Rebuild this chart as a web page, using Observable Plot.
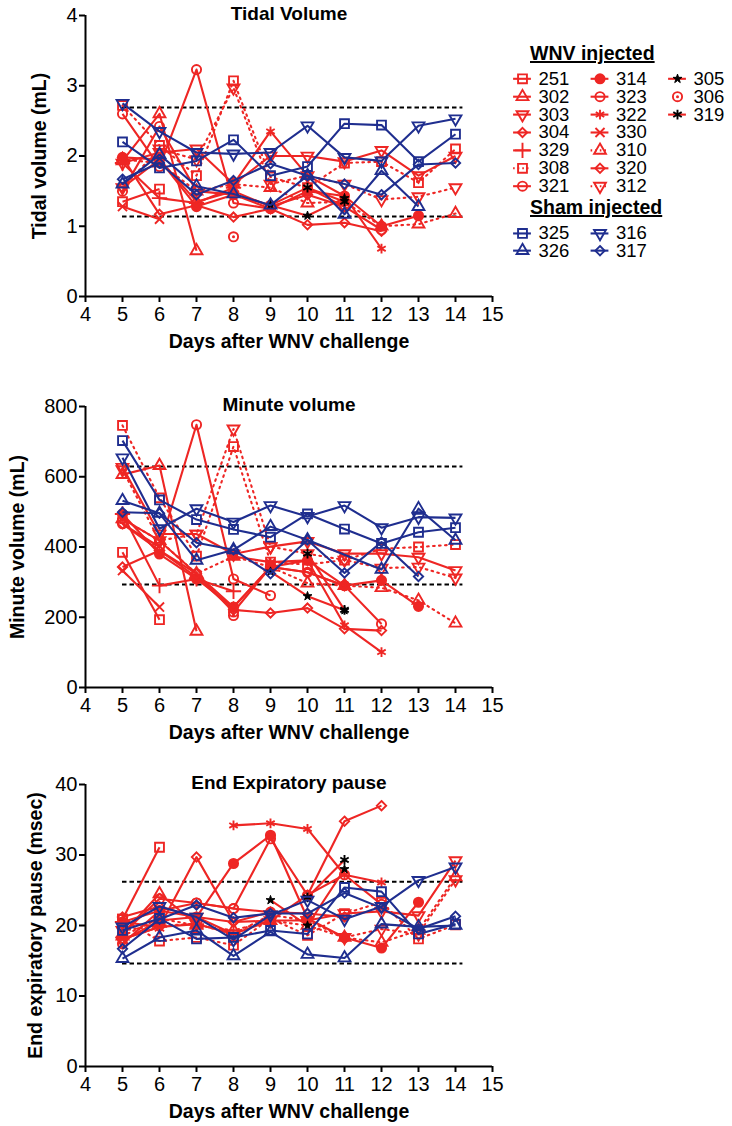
<!DOCTYPE html>
<html>
<head>
<meta charset="utf-8">
<script src="https://cdn.jsdelivr.net/npm/d3@7"></script>
<script src="https://cdn.jsdelivr.net/npm/@observablehq/plot@0.6"></script>
<style>
  body { margin: 0; background: #fff; font-family: "Liberation Sans", Arial, Helvetica, sans-serif; }
  #wrap { position: relative; width: 732px; height: 1126px; overflow: hidden; }
  #wrap svg { display: block; }
  .hdr { position: absolute; font-weight: bold; font-size: 19.5px; line-height: 22px; text-decoration: underline; text-decoration-thickness: 2px; color: #000; white-space: nowrap; }
  #legend { position: absolute; left: 480px; top: 0px; }
</style>
</head>
<body>
<div id="wrap"></div>
<script>
// ---------- data ----------
const days = [5, 6, 7, 8, 9, 10, 11, 12, 13, 14];
const xTicks = [4, 5, 6, 7, 8, 9, 10, 11, 12, 13, 14, 15];
const xLabel = "Days after WNV challenge";

const seriesIds     = ["251","302","303","304","329","308","321","314","323","322","330","310","320","312","305","306","319","325","326","316","317"];
const seriesGroup   = ["WNV","WNV","WNV","WNV","WNV","WNV","WNV","WNV","WNV","WNV","WNV","WNV","WNV","WNV","WNV","WNV","WNV","Sham","Sham","Sham","Sham"];
const seriesSymbol  = ["square","triangle","triangleDown","diamond","plus","square","circle","circle","circle","asterisk","times","triangle","diamond","triangleDown","star","circle","asterisk","square","triangle","triangleDown","diamond"];
const seriesFill    = [false,false,false,false,false,false,false,true,false,false,false,false,false,false,true,false,false,false,false,false,false];
const seriesCenterDot = [false,false,false,false,false,false,false,false,false,false,false,false,false,false,false,true,false,false,false,false,false];
const seriesLine    = ["solid","solid","solid","solid","solid","dotted","solid","solid","solid","solid","solid","dotted","solid","dotted","solid","none","solid","solid","solid","solid","solid"];
const seriesMarkerBlack = [false,false,false,false,false,false,false,false,false,false,false,false,false,false,true,false,true,false,false,false,false];

const legendCol = [0,0,0,0,0,0,0, 1,1,1,1,1,1,1, 2,2,2, 0,0,1,1];
const legendRow = [0,1,2,3,4,5,6, 0,1,2,3,4,5,6, 0,1,2, 8.64,9.6,8.64,9.6];

const n = null;
// rows: [id, day5 ... day14]
const tidalVolume = [
  ["251", 1.35, 1.53, n, n, n, n, n, n, n, n],
  ["302", 1.93, 2.60, 0.65, n, n, n, n, n, n, n],
  ["303", 1.90, 2.05, 2.10, 1.60, 2.00, 2.00, 1.92, 2.08, 1.72, 2.00],
  ["304", 1.98, 1.17, 1.30, 1.13, 1.25, 1.02, 1.05, 0.93, n, n],
  ["329", 1.90, 1.40, 1.33, 1.55, n, n, n, n, n, n],
  ["308", 2.72, 2.15, 1.72, 3.07, 1.70, 1.55, 1.90, 1.92, 1.62, 2.10],
  ["321", 2.60, 1.85, 3.23, 1.33, 1.25, n, n, n, n, n],
  ["314", 1.98, 1.95, 1.28, 1.45, 1.25, 1.50, 1.43, 1.00, 1.15, n],
  ["323", 1.50, 2.42, 1.50, 1.45, 1.30, 1.55, 1.28, 0.95, n, n],
  ["322", n, n, n, 1.60, 2.35, 1.72, 1.43, 0.68, n, n],
  ["330", 1.28, 1.10, n, n, n, n, n, n, n, n],
  ["310", 1.95, 1.90, 1.50, 1.60, 1.55, 1.33, 1.35, 1.00, 1.03, 1.18],
  ["320", 1.55, 1.95, 1.35, 1.50, 1.28, 1.45, 1.28, n, n, n],
  ["312", 1.55, 2.10, 1.95, 2.97, 1.60, 1.72, 1.60, 1.38, 1.42, 1.55],
  ["305", n, n, n, n, 1.30, 1.15, 1.40, n, n, n],
  ["306", n, n, n, 0.85, n, n, n, n, n, n],
  ["319", n, n, n, n, n, 1.55, 1.35, n, n, n],
  ["325", 2.20, 1.83, 1.93, 2.23, 1.72, 1.85, 2.46, 2.44, 1.92, 2.31],
  ["326", 1.60, 2.02, 1.57, 1.46, 1.30, 1.72, 1.17, 1.79, 1.28, n],
  ["316", 2.75, 2.35, 2.05, 2.03, 2.05, 2.43, 1.98, 1.93, 2.43, 2.53],
  ["317", 1.67, 1.90, 1.45, 1.65, 1.89, 1.72, 1.60, 1.45, 1.88, 1.90]
];
const minuteVolume = [
  ["251", 385, 193, n, n, n, n, n, n, n, n],
  ["302", 606, 632, 160, n, n, n, n, n, n, n],
  ["303", 627, 437, 437, 380, 401, 416, 381, 381, 371, 333],
  ["304", 343, 390, 314, 221, 212, 226, 167, 162, n, n],
  ["329", 494, 290, 309, 274, n, n, n, n, n, n],
  ["308", 746, 540, 374, 686, 357, 350, 363, 395, 400, 407],
  ["321", 466, 400, 748, 309, 262, n, n, n, n, n],
  ["314", 494, 380, 309, 229, 343, 362, 290, 305, 231, n],
  ["323", 480, 418, 324, 215, 343, 328, 290, 181, n, n],
  ["322", n, n, n, 373, 357, 362, 177, 101, n, n],
  ["330", 333, 229, n, n, n, n, n, n, n, n],
  ["310", 480, 418, 324, 373, 343, 297, 290, 284, 248, 183],
  ["320", 466, 390, 324, 229, 343, 328, 290, n, n, n],
  ["312", 620, 418, 437, 736, 401, 381, 363, 340, 343, 312],
  ["305", n, n, n, n, 330, 260, 220, n, n, n],
  ["306", n, n, n, 205, n, n, n, n, n, n],
  ["319", n, n, n, n, n, 381, 221, n, n, n],
  ["325", 703, 534, 478, 450, 428, 494, 451, 410, 442, 455],
  ["326", 532, 496, 362, 392, 458, 420, n, 336, 509, 419],
  ["316", 654, 452, 509, 471, 518, 487, 518, 455, 485, 483],
  ["317", 499, 496, 412, 392, 324, 420, 326, 414, 316, n]
];
const expiratoryPause = [
  ["251", 20.9, 31.1, n, n, n, n, n, n, n, n],
  ["302", 18.8, 24.5, 20.2, n, n, n, n, n, n, n],
  ["303", 17.8, 20.7, 21.2, 18.8, 20.7, 20.7, 21.7, 22.0, 21.4, 29.2],
  ["304", 18.1, 19.8, 29.7, 20.5, 20.7, 24.3, 34.8, 37.0, n, n],
  ["329", 20.5, 19.8, 20.2, 18.8, n, n, n, n, n, n],
  ["308", 20.9, 17.8, 18.3, 17.2, 21.0, 18.6, 21.7, 23.3, 18.1, 20.1],
  ["321", 17.4, 22.1, 23.2, 22.4, 21.9, n, n, n, n, n],
  ["314", 20.5, 22.1, 21.2, 28.8, 32.8, 21.0, 18.3, 16.8, 23.3, n],
  ["323", 18.8, 23.8, 23.2, 22.4, 32.3, 24.3, 27.2, 23.0, n, n],
  ["322", n, n, n, 34.2, 34.5, 33.7, 27.2, 26.1, n, n],
  ["330", 18.1, 19.8, n, n, n, n, n, n, n, n],
  ["310", 18.5, 21.0, 20.0, 19.3, 20.7, 20.0, 18.3, 17.6, 19.3, 26.9],
  ["320", 21.2, 22.7, 21.2, 20.5, 21.9, 21.7, 21.2, n, n, n],
  ["312", 19.3, 20.0, 20.2, 18.8, 21.5, 20.7, 18.3, 19.5, 18.8, 26.5],
  ["305", n, n, n, n, 23.6, 20.0, 28.0, n, n, n],
  ["306", n, n, n, n, n, n, n, n, n, n],
  ["319", n, n, n, n, n, 24.0, 29.3, n, n, n],
  ["325", 19.3, 21.0, 18.1, 18.3, 19.3, 18.8, 25.4, 24.8, 18.8, 20.2],
  ["326", 15.3, 18.3, 19.3, 15.7, 19.1, 15.9, 15.4, 20.2, 19.8, 20.0],
  ["316", 19.8, 22.7, 21.2, 18.0, 21.5, 23.6, 20.9, 22.7, 26.4, 28.3],
  ["317", 16.7, 20.9, 22.9, 21.1, 21.7, 21.7, 24.6, 22.5, 19.5, 21.3]
];

// normal ranges (upper, lower) and day span of dashed lines
const tidalRange = [2.69, 1.14];
const minuteRange = [629, 293];
const pauseRange = [26.2, 14.6];
const rangeDays = [5, 14.2];

const tidalTicks = [0, 1, 2, 3, 4];
const minuteTicks = [0, 200, 400, 600, 800];
const pauseTicks = [0, 10, 20, 30, 40];

// ---------- styling ----------
const RED = "#ee2624";
const BLUE = "#1f2e8f";
const FONT = "'Liberation Sans', Arial, Helvetica, sans-serif";

const triangleDown = {
  draw(context, size) {
    const s3 = Math.sqrt(3);
    const y = Math.sqrt(size / (s3 * 3));
    context.moveTo(0, 2 * y);
    context.lineTo(-s3 * y, -y);
    context.lineTo(s3 * y, -y);
    context.closePath();
  }
};
const symbolMap = {square: "square", triangle: "triangle", triangleDown: triangleDown, diamond: "diamond2",
  plus: "plus", circle: "circle", asterisk: "asterisk", times: "times", star: "star"};
const symbolR = {square: 5.0, triangle: 4.4, triangleDown: 4.4, diamond: 4.2, plus: 5.0,
  circle: 4.6, asterisk: 4.6, times: 4.2, star: 2.8};

function seriesMarks(rows, i, legend) {
  const color = seriesGroup[i] === "WNV" ? RED : BLUE;
  const markColor = seriesMarkerBlack[i] ? "#000" : color;
  const sym = seriesSymbol[i];
  const marks = [];
  if (seriesLine[i] !== "none" && !legend) {
    marks.push(Plot.line(rows, {x: "x", y: "y", stroke: color, strokeWidth: 2.1,
      strokeDasharray: seriesLine[i] === "dotted" ? "1.6,4.4" : null,
      strokeLinecap: seriesLine[i] === "dotted" ? "round" : "butt"}));
  }
  marks.push(Plot.dot(rows, {x: "x", y: "y", symbol: symbolMap[sym], r: symbolR[sym],
    stroke: markColor, strokeWidth: sym === "star" ? 1 : 1.9, fill: seriesFill[i] ? markColor : "none"}));
  if (seriesCenterDot[i]) {
    marks.push(Plot.dot(rows, {x: "x", y: "y", r: 1.5, fill: markColor, stroke: "none"}));
  }
  return marks;
}

function panel(table, yDomain, yTicks, range, title, yLabel, yLabelX, height, marginTop, marginBottom) {
  const order = [];
  seriesIds.forEach((id, i) => { if (seriesGroup[i] === "WNV") order.push(i); });
  seriesIds.forEach((id, i) => { if (seriesGroup[i] === "Sham") order.push(i); });
  const marks = [
    Plot.ruleY(range, {x1: rangeDays[0], x2: rangeDays[1], stroke: "#000", strokeWidth: 2, strokeDasharray: "4.5,3"})
  ];
  for (const i of order) {
    const row = table.find(r => r[0] === seriesIds[i]);
    const pts = days.map((d, k) => ({x: d, y: row[k + 1]})).filter(p => p.y != null);
    if (pts.length) marks.push(...seriesMarks(pts, i, false));
  }
  marks.push(
    Plot.ruleX([4], {stroke: "#000", strokeWidth: 2}),
    Plot.ruleY([yDomain[0]], {stroke: "#000", strokeWidth: 2}),
    Plot.axisX({ticks: xTicks, tickSize: 6, tickPadding: 4, fontSize: 20, label: null, strokeWidth: 2, tickFormat: d => String(d)}),
    Plot.axisY({ticks: yTicks, tickSize: 6, tickPadding: 2, fontSize: 20, label: null, strokeWidth: 2, tickFormat: d => String(d)}),
    Plot.text([title], {frameAnchor: "top", dy: -2, lineAnchor: "middle", fontSize: 19, fontWeight: "bold", fill: "#000"}),
    Plot.text([xLabel], {frameAnchor: "bottom", dy: 45, lineAnchor: "middle", fontSize: 19.5, fontWeight: "bold", fill: "#000"}),
    Plot.text([yLabel], {frameAnchor: "left", dx: yLabelX - 85, rotate: -90, textAnchor: "middle", lineAnchor: "middle", fontSize: 19.5, fontWeight: "bold", fill: "#000"})
  );
  return Plot.plot({
    width: 732, height, marginLeft: 85, marginRight: 240, marginTop, marginBottom,
    style: {fontFamily: FONT, color: "#000", background: "#fff", overflow: "visible"},
    x: {domain: [4, 15]},
    y: {domain: yDomain},
    marks
  });
}

const wrap = document.getElementById("wrap");
wrap.appendChild(panel(tidalVolume, [0, 4], tidalTicks, tidalRange, "Tidal Volume", "Tidal volume (mL)", 39, 370, 15, 74));
wrap.appendChild(panel(minuteVolume, [0, 800], minuteTicks, minuteRange, "Minute volume", "Minute volume (mL)", 17, 380, 36, 63));
wrap.appendChild(panel(expiratoryPause, [0, 40], pauseTicks, pauseRange, "End Expiratory pause", "End expiratory pause (msec)", 35, 376, 34, 60));

// ---------- legend ----------
const legendMarks = [];
seriesIds.forEach((id, i) => {
  const pt = [{x: legendCol[i], y: legendRow[i], label: id}];
  const color = seriesGroup[i] === "WNV" ? RED : BLUE;
  if (seriesLine[i] !== "none") {
    legendMarks.push(Plot.ruleY(pt, {y: "y", x1: d => d.x - 0.115, x2: d => d.x + 0.115, stroke: color, strokeWidth: 2.1,
      strokeDasharray: seriesLine[i] === "dotted" ? "1.6,3" : null}));
  }
  legendMarks.push(...seriesMarks(pt, i, true));
  legendMarks.push(Plot.text(pt, {x: "x", y: "y", text: "label", dx: 16, textAnchor: "start", lineAnchor: "middle", fontSize: 18.5, fill: "#000"}));
});
const legend = Plot.plot({
  width: 252, height: 270, margin: 0,
  style: {fontFamily: FONT, background: "transparent", overflow: "visible"},
  x: {domain: [0, 2], range: [42, 197], axis: null},
  y: {domain: [0, 6], range: [78.3, 185.7], axis: null},
  marks: legendMarks
});
legend.id = "legend";
wrap.appendChild(legend);

const h1 = document.createElement("div");
h1.className = "hdr"; h1.style.left = "530px"; h1.style.top = "42px"; h1.textContent = "WNV injected";
wrap.appendChild(h1);
const h2 = document.createElement("div");
h2.className = "hdr"; h2.style.left = "530px"; h2.style.top = "196px"; h2.textContent = "Sham injected";
wrap.appendChild(h2);
</script>
</body>
</html>
